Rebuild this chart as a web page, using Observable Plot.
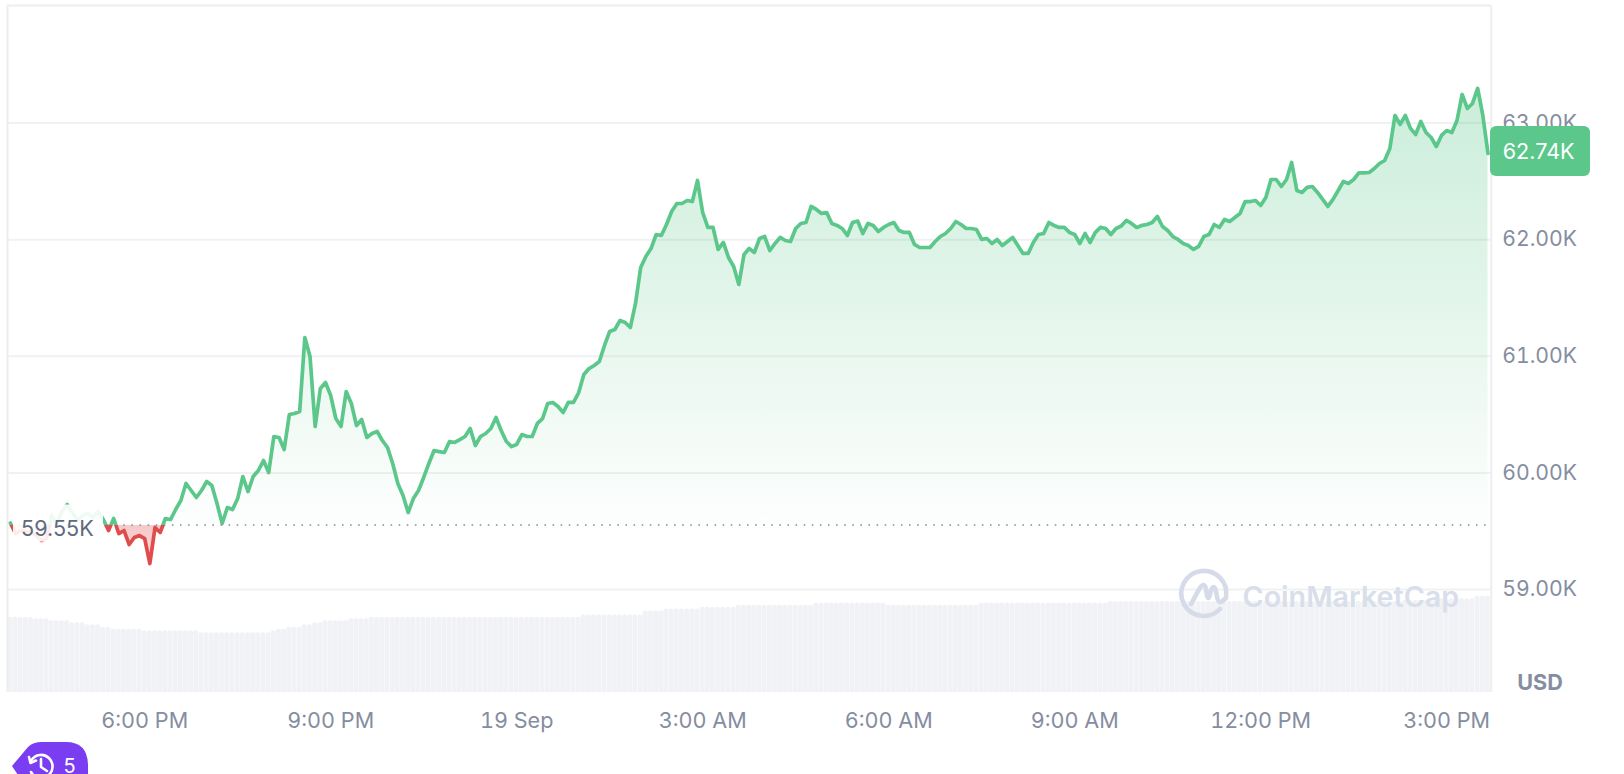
<!DOCTYPE html>
<html>
<head>
<meta charset="utf-8">
<style>
html,body{margin:0;padding:0;background:#fff;overflow:hidden}
#chart{position:relative;width:1624px;height:774px}
#chart svg{position:absolute;left:0;top:0;display:block;background:transparent}
</style>
<script src="https://cdn.jsdelivr.net/npm/d3@7"></script>
<script src="https://cdn.jsdelivr.net/npm/@observablehq/plot@0.6"></script>
</head>
<body>
<div id="chart"></div>
<script>
// USD price, one reading every five minutes
const prices = [
59570,59480,59506,59497,59489,59463,59420,59437,59635,59566,59669,59729,59660,59592,59635,59652,59617,59669,59600,59506,
59609,59480,59506,59386,59446,59463,59437,59223,59532,59489,59609,59600,59686,59763,59909,59849,59789,59849,59926,59892,
59738,59566,59703,59686,59780,59969,59840,59969,60021,60106,60003,60312,60304,60201,60501,60509,60527,61161,60998,60398,
60724,60775,60664,60466,60398,60698,60595,60406,60458,60304,60338,60355,60278,60218,60081,59909,59806,59660,59780,59849,
59961,60081,60192,60183,60175,60269,60261,60286,60312,60381,60235,60312,60338,60381,60475,60364,60269,60226,60244,60329,
60312,60312,60424,60466,60595,60604,60569,60518,60604,60604,60689,60844,60895,60921,60955,61093,61213,61230,61307,61290,
61247,61453,61761,61856,61924,62044,62036,62130,62242,62310,62310,62336,62327,62508,62233,62105,62105,61916,61976,61847,
61770,61616,61873,61924,61890,62010,62027,61907,61967,62019,61993,61984,62096,62139,62147,62285,62259,62225,62233,62139,
62122,62096,62036,62147,62160,62053,62139,62122,62070,62105,62130,62147,62079,62062,62062,61959,61933,61933,61933,61984,
62027,62053,62096,62156,62130,62096,62096,62087,62002,62010,61967,62002,61950,61984,62019,61950,61882,61882,61976,62044,
62053,62147,62122,62105,62105,62062,62044,61967,62053,61976,62062,62105,62096,62044,62096,62117,62165,62139,62105,62122,
62130,62147,62199,62113,62079,62027,62002,61967,61950,61916,61942,62027,62044,62130,62105,62173,62156,62190,62225,62327,
62327,62336,62293,62362,62516,62516,62456,62516,62662,62422,62405,62448,62456,62405,62345,62285,62345,62422,62499,62482,
62516,62572,62572,62576,62610,62653,62679,62782,63065,62988,63065,62954,62902,63014,62919,62876,62799,62894,62936,62919,
63022,63245,63125,63168,63297,63065,62739
];
// trading volume in USD billions, one bar per reading
const volumes = [
30.1,30.1,30.1,30.1,30.1,29.5,29.5,29.5,28.7,28.7,28.7,28.7,27.9,27.9,27.9,27.1,27.1,27.1,26.1,26.1,
25.3,25.3,25.3,25.3,25.3,25.3,24.7,24.7,24.7,24.7,24.7,24.7,24.7,24.7,24.7,24.7,24.7,23.9,23.9,23.9,
23.9,23.9,23.9,23.9,23.9,23.9,23.9,23.9,23.9,23.9,23.9,24.7,25.3,25.3,26.1,26.1,26.1,27.1,27.1,27.9,
27.9,28.7,28.7,28.7,28.7,28.7,29.5,29.5,29.5,29.5,30.1,30.1,30.1,30.1,30.1,30.1,30.1,30.1,30.1,30.1,
30.1,30.1,30.1,30.1,30.1,30.1,30.1,30.1,30.1,30.1,30.1,30.1,30.1,30.1,30.1,30.1,30.1,30.1,30.1,30.1,
30.1,30.1,30.1,30.1,30.1,30.1,30.1,30.1,30.1,30.1,30.1,31.0,31.0,31.0,31.0,31.0,31.0,31.0,31.0,31.0,
31.0,31.0,31.0,32.6,32.6,32.6,32.6,33.4,33.4,33.4,33.4,33.4,33.4,33.4,34.1,34.1,34.1,34.1,34.1,34.1,
34.1,34.9,34.9,34.9,34.9,34.9,34.9,34.9,34.9,34.9,34.9,34.9,34.9,34.9,34.9,34.9,35.8,35.8,35.8,35.8,
35.8,35.8,35.8,35.8,35.8,35.8,35.8,35.8,35.8,35.8,34.9,34.9,34.9,34.9,34.9,34.9,34.9,34.9,34.9,34.9,
34.9,34.9,34.9,34.9,34.9,34.9,34.9,34.9,35.8,35.8,35.8,35.8,35.8,35.8,35.8,35.8,35.8,35.8,35.8,35.8,
35.8,35.8,35.8,35.8,35.8,35.8,35.8,35.8,35.8,35.8,35.8,35.8,35.8,36.4,36.4,36.4,36.4,36.4,36.4,36.4,
36.4,36.4,36.4,36.4,36.4,36.4,36.4,36.4,36.4,36.4,36.4,36.4,36.4,36.4,36.4,36.4,36.4,36.4,36.4,36.4,
36.4,36.4,36.4,36.4,36.4,36.4,36.4,36.4,36.4,36.4,36.4,36.4,36.4,36.4,36.4,36.4,36.4,36.4,36.4,36.4,
36.4,36.4,36.4,36.4,36.4,36.4,36.4,36.4,36.4,36.4,36.8,36.8,36.8,36.8,36.8,36.8,37.5,37.5,37.5,37.5,
37.5,37.5,37.5,37.5,38.5,38.5,38.5
];
const seriesStart = "2024-09-18T15:50:00Z";
const xDomain = ["2024-09-18T15:47:14Z", "2024-09-19T15:43:06Z"];
const xTickTimes = ["2024-09-18T18:00:00Z","2024-09-18T21:00:00Z","2024-09-19T00:00:00Z","2024-09-19T03:00:00Z","2024-09-19T06:00:00Z","2024-09-19T09:00:00Z","2024-09-19T12:00:00Z","2024-09-19T15:00:00Z"];
const xTickLabels = ["6:00 PM","9:00 PM","19 Sep","3:00 AM","6:00 AM","9:00 AM","12:00 PM","3:00 PM"];
const yTicks = [59000,60000,61000,62000,63000];
const yDomain = [58117,64008];
const volumeDomain = [0,40];
const openPrice = 59553;
const openLabel = "59.55K";
const lastLabel = "62.74K";
const historyCount = "5";

const GREEN = "#5bc78a", RED = "#e04c4c", GRAY = "#858da0", FONT = "Inter, 'Noto Sans', sans-serif";
const W = 1624, H = 774;
const margins = {marginLeft:7, marginRight:133.3, marginTop:5, marginBottom:82};

const parse = d3.isoParse;
const t0 = parse(seriesStart);
const timeAt = i => d3.utcMinute.offset(t0, i * 5);
const rows = prices.map((price, i) => ({
  time: timeAt(i),
  price,
  volume: volumes[i],
  left: d3.utcSecond.offset(timeAt(i), -150),
  right: d3.utcSecond.offset(timeAt(i), 150)
}));
const xScale = {type:"utc", domain: xDomain.map(parse)};

// volume layer with its own y scale, underneath the price layer
const volumePlot = Plot.plot({
  width:W, height:H, ...margins,
  x: {...xScale, axis:null},
  y: {domain: volumeDomain, axis:null, range:[H - margins.marginBottom, H - margins.marginBottom - 100]},
  marks: [
    Plot.rectY(rows, {x1:"left", x2:"right", y1:() => -2, y2:"volume", fill:"#f0f2f6", rx:2, insetRight:0.25, clip:true})
  ]
});

// gradients placed on the price scale
function gradients(index, {y}) {
  const g = d3.create("svg:g");
  const defs = g.append("defs");
  const base = y(openPrice), top = y(d3.max(prices)), bottom = y(d3.min(prices));
  const span = bottom - top, off = (base - top) / span;
  const lg = defs.append("linearGradient").attr("id","lineStroke").attr("gradientUnits","userSpaceOnUse")
    .attr("x1",0).attr("x2",0).attr("y1",top).attr("y2",bottom);
  [[0,GREEN],[off,GREEN],[off,RED],[1,RED]].forEach(([o,c]) => lg.append("stop").attr("offset",o).attr("stop-color",c));
  const ag = defs.append("linearGradient").attr("id","areaFill").attr("gradientUnits","userSpaceOnUse")
    .attr("x1",0).attr("x2",0).attr("y1",top).attr("y2",bottom);
  [[0,GREEN,0.32],[off,GREEN,0.01],[off,RED,0.30],[1,RED,0.22]].forEach(([o,c,a]) =>
    ag.append("stop").attr("offset",o).attr("stop-color",c).attr("stop-opacity",a));
  return g.node();
}
// price badge at the right end and the label backing at the open price
function lastBadge(index, {x, y}) {
  const g = d3.create("svg:g");
  g.append("rect").attr("x", x.range()[1] - 0.7).attr("y", y(prices[prices.length-1]) - 27)
    .attr("width",100).attr("height",50).attr("rx",6).attr("fill",GREEN);
  return g.node();
}
function openBacking(index, {y}) {
  const g = d3.create("svg:g");
  g.append("rect").attr("x",13).attr("y",y(openPrice)-20).attr("width",90).attr("height",37)
    .attr("fill","#fff").attr("fill-opacity",0.9);
  return g.node();
}
// CoinMarketCap mark
function logoMark() {
  const g = d3.create("svg:g").attr("fill","none").attr("stroke","#d5dbe8").attr("stroke-linecap","round").attr("stroke-linejoin","round");
  g.append("path").attr("stroke-width",4.6).attr("d","M1220,609 A22.5,22.5 0 1 1 1226,597");
  g.append("path").attr("stroke-width",4.6).attr("d","M1191,604 C1196,596 1200,585 1203.5,585 C1207,585 1206,598 1208.5,598 C1210.5,598 1210,587 1213.5,587 C1217,587 1216,602 1220,602 C1222,602 1224,600 1226,598");
  return g.node();
}
// purple history tag at the lower left
function historyTag() {
  const g = d3.create("svg:g");
  g.append("path").attr("fill","#7a3df2").attr("d","M12,766 L28,747 Q33,742 42,742 L66,742 Q88,742 88,766 L88,790 L28,790 Z");
  const ic = g.append("g").attr("fill","none").attr("stroke","#fff").attr("stroke-width",2.6).attr("stroke-linecap","round").attr("stroke-linejoin","round");
  ic.append("path").attr("d","M31.5,760 A11.5,11.5 0 1 1 31,772");
  ic.append("path").attr("d","M29,757 L30.5,763 L36,760.5");
  ic.append("path").attr("d","M41,759 L41,767 L47,771");
  return g.node();
}

const pricePlot = Plot.plot({
  width:W, height:H, ...margins,
  style:{fontFamily:FONT, fontSize:"21.6px", background:"transparent", overflow:"hidden"},
  x: xScale,
  y: {domain: yDomain},
  marks: [
    gradients,
    Plot.ruleY(yTicks, {stroke:"#f0f1f2", strokeWidth:2}),
    Plot.ruleY([yDomain[1]], {stroke:"#eeeeee", strokeWidth:2}),
    Plot.ruleX(xDomain.map(parse), {stroke:"#eeeeee", strokeWidth:2}),
    Plot.axisX(xTickTimes.map(parse), {tickSize:0, tickPadding:20, color:GRAY, fill:GRAY, label:null,
      tickFormat:d => xTickLabels[xTickTimes.map(parse).findIndex(t => +t === +d)]}),
    Plot.axisY(yTicks, {anchor:"right", tickSize:0, tickPadding:11, color:GRAY, fill:GRAY, label:null, fontSize:21.2,
      tickFormat:d => (d/1000).toFixed(2) + "K"}),
    Plot.areaY(rows, {x:"time", y1:() => openPrice, y2:"price", fill:"url(#areaFill)", curve:"linear"}),
    Plot.ruleY([openPrice], {x1:rows[0].time, x2:rows[rows.length-1].time, stroke:"#8a8a8a", strokeWidth:1.6, strokeDasharray:"1.6 6.5"}),
    Plot.lineY(rows, {x:"time", y:"price", stroke:"url(#lineStroke)", strokeWidth:3.7, strokeLinejoin:"round", strokeLinecap:"round", curve:"linear"}),
    openBacking,
    Plot.text([openLabel], {frameAnchor:"left", y:() => openPrice, dx:13.5, dy:4, textAnchor:"start", fill:"#5e6a80", lineAnchor:"middle"}),
    lastBadge,
    Plot.text([lastLabel], {frameAnchor:"right", y:() => prices[prices.length-1], dx:11.5, dy:-1, textAnchor:"start", fill:"#fff", lineAnchor:"middle"}),
    Plot.text(["USD"], {frameAnchor:"bottom-right", dx:26, dy:-9, textAnchor:"start", lineAnchor:"middle", fill:GRAY, fontWeight:700}),
    logoMark,
    Plot.text(["CoinMarketCap"], {frameAnchor:"top-left", dx:1235, dy:592, textAnchor:"start", lineAnchor:"middle", fill:"#d8deea", fontWeight:600, fontSize:28.7}),
    historyTag,
    Plot.text([historyCount], {frameAnchor:"bottom-left", dx:56, dy:74, textAnchor:"start", lineAnchor:"middle", fill:"#fff", fontSize:20})
  ]
});

document.getElementById("chart").append(volumePlot, pricePlot);
</script>
</body>
</html>
